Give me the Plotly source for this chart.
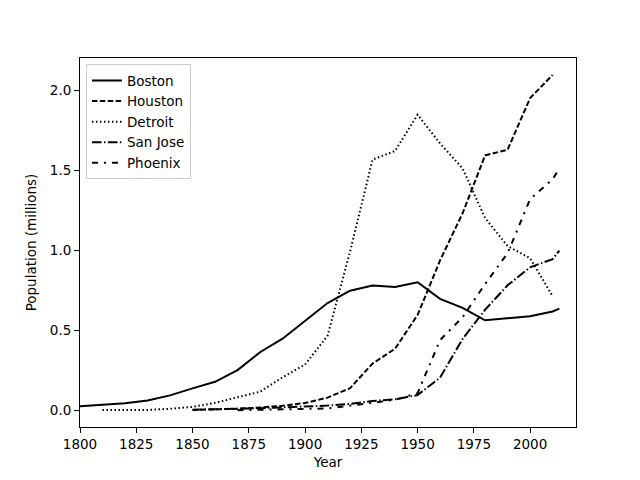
import plotly.graph_objects as go

# census populations (millions)
boston_years = [1800, 1810, 1820, 1830, 1840, 1850, 1860, 1870, 1880, 1890, 1900, 1910,
                1920, 1930, 1940, 1950, 1960, 1970, 1980, 1990, 2000, 2010, 2013]
boston_pop = [0.025, 0.034, 0.043, 0.061, 0.093, 0.137, 0.178, 0.251, 0.363, 0.448, 0.561, 0.671,
              0.748, 0.781, 0.771, 0.801, 0.697, 0.641, 0.563, 0.574, 0.589, 0.618, 0.636]

houston_years = [1850, 1860, 1870, 1880, 1890, 1900, 1910, 1920, 1930, 1940, 1950, 1960,
                 1970, 1980, 1990, 2000, 2010]
houston_pop = [0.002, 0.005, 0.009, 0.017, 0.028, 0.045, 0.079, 0.138, 0.292, 0.385, 0.596, 0.938,
               1.233, 1.595, 1.631, 1.954, 2.099]

detroit_years = [1810, 1820, 1830, 1840, 1850, 1860, 1870, 1880, 1890, 1900, 1910, 1920,
                 1930, 1940, 1950, 1960, 1970, 1980, 1990, 2000, 2010]
detroit_pop = [0.001, 0.001, 0.002, 0.009, 0.021, 0.046, 0.080, 0.116, 0.206, 0.286, 0.466, 0.993,
               1.569, 1.623, 1.850, 1.670, 1.514, 1.203, 1.028, 0.951, 0.714]

sanjose_years = [1850, 1860, 1870, 1880, 1890, 1900, 1910, 1920, 1930, 1940, 1950, 1960,
                 1970, 1980, 1990, 2000, 2010, 2013]
sanjose_pop = [0.003, 0.005, 0.009, 0.013, 0.018, 0.022, 0.029, 0.040, 0.058, 0.068, 0.095, 0.204,
               0.446, 0.629, 0.782, 0.895, 0.946, 0.999]

phoenix_years = [1870, 1880, 1890, 1900, 1910, 1920, 1930, 1940, 1950, 1960, 1970, 1980,
                 1990, 2000, 2010, 2013]
phoenix_pop = [0.0002, 0.002, 0.003, 0.006, 0.011, 0.029, 0.048, 0.065, 0.107, 0.439, 0.582, 0.790,
               0.983, 1.321, 1.446, 1.513]

cities = [
    ("Boston", boston_years, boston_pop, "solid"),
    ("Houston", houston_years, houston_pop, "5.5px,2.4px"),
    ("Detroit", detroit_years, detroit_pop, "1.5px,2.5px"),
    ("San Jose", sanjose_years, sanjose_pop, "9.6px,2.4px,1.5px,2.4px"),
    ("Phoenix", phoenix_years, phoenix_pop, "6px,6px,2px,6px"),
]

fig = go.Figure()
for name, yrs, pop, dash in cities:
    fig.add_trace(go.Scatter(x=yrs, y=pop, mode="lines", name=name,
                             line=dict(color="black", width=2, dash=dash)))

font = dict(family="DejaVu Sans", size=13.5, color="black")
# page body has an 8px margin, so pull the margins in by 8
fig.update_layout(
    width=640, height=480,
    margin=dict(l=72, r=72, t=50, b=61),
    plot_bgcolor="white", paper_bgcolor="white",
    font=font,
    showlegend=True,
    legend=dict(x=0.012, y=0.983, xanchor="left", yanchor="top",
                bordercolor="#cccccc", borderwidth=1, bgcolor="white",
                font=font, tracegroupgap=0, itemwidth=30),
)
fig.update_xaxes(range=[1800, 2020.4], tickvals=[1800, 1825, 1850, 1875, 1900, 1925, 1950, 1975, 2000],
                 showgrid=False, zeroline=False, showline=True, linecolor="black", linewidth=1,
                 mirror=True, ticks="outside", ticklen=5, tickcolor="black", tickfont=font,
                 title=dict(text="Year", standoff=6, font=font))
fig.update_yaxes(range=[-0.105, 2.205], tickvals=[0, 0.5, 1.0, 1.5, 2.0], tickformat=".1f",
                 showgrid=False, zeroline=False, showline=True, linecolor="black", linewidth=1,
                 mirror=True, ticks="outside", ticklen=5, tickcolor="black", tickfont=font,
                 title=dict(text="Population (millions)", standoff=10, font=font))

fig.write_html("out.html")
